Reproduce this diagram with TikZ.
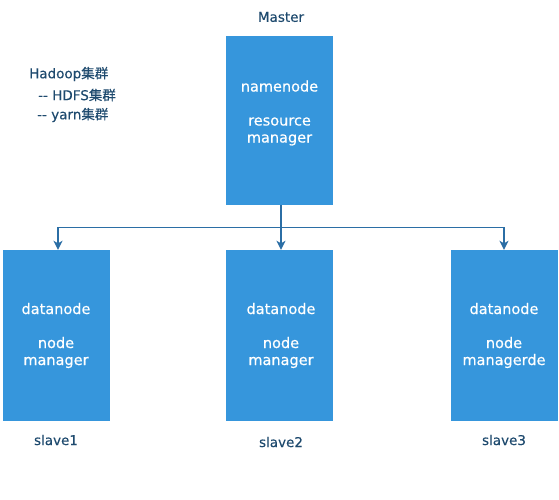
\documentclass[tikz,border=0pt]{standalone}
\usepackage{fontspec}
\setmainfont{DejaVu Sans}
\newfontfamily\boxfont[FakeBold=0.5]{DejaVu Sans}
\newfontfamily\lblfont[FakeBold=0.25]{DejaVu Sans}
\newfontfamily\cjk[FakeBold=0.25]{Noto Sans CJK SC}
\usetikzlibrary{arrows.meta}
\definecolor{boxblue}{RGB}{54,150,220}
\definecolor{lineblue}{RGB}{43,110,165}
\definecolor{labelblue}{RGB}{30,74,110}
\tikzset{
  x=1pt,y=-1pt,
  srv/.style={fill=boxblue,draw=none,minimum width=107pt,minimum height=171pt,inner sep=0pt},
  srvtext/.style={text=white,align=center,font=\boxfont\fontsize{14.5}{17}\selectfont,inner sep=0pt},
  lbl/.style={text=labelblue,font=\lblfont\fontsize{13.5}{16}\selectfont,inner sep=0pt},
  conn/.style={draw=lineblue,line width=1.3pt,-{Stealth[length=9pt,width=9pt,inset=2.5pt]}}
}
\begin{document}
\begin{tikzpicture}
\useasboundingbox (0,0) rectangle (559,500);
\node[srv,minimum height=169pt] (master) at (279.5,120.5) {};
\node[srvtext] (mastertxt) at (279.5,113) {namenode\\[17pt]resource\\manager};
\node[lbl] (masterlbl) at (281,17) {Master};

\node[srv] (s1) at (56,335.5) {};
\node[srv] (s2) at (279.5,335.5) {};
\node[srv] (s3) at (504,335.5) {};
\node[srvtext] (t1) at (56,335.5) {datanode\\[17pt]node\\manager};
\node[srvtext] (t2) at (281,335.5) {datanode\\[17pt]node\\manager};
\node[srvtext] (t3) at (504,335.5) {datanode\\[17pt]node\\managerde};
\node[lbl] (l1) at (56,440) {slave1};
\node[lbl] (l2) at (281,442) {slave2};
\node[lbl] (l3) at (504,440) {slave3};

\node[lbl,anchor=west] (h1) at (29,74) {Hadoop{\cjk 集群}};
\node[lbl,anchor=west] (h2) at (38,95) {-{}- HDFS{\cjk 集群}};
\node[lbl,anchor=west] (h3) at (37,115) {-{}- yarn{\cjk 集群}};

\coordinate (j) at (281,227.5);
\draw[conn] (master.south -| j) -- (j) -- (s2.north -| j);
\draw[conn] (j) -| (s1.north -| 58,0);
\draw[conn] (j) -| (s3.north -| 504,0);
\end{tikzpicture}
\end{document}
